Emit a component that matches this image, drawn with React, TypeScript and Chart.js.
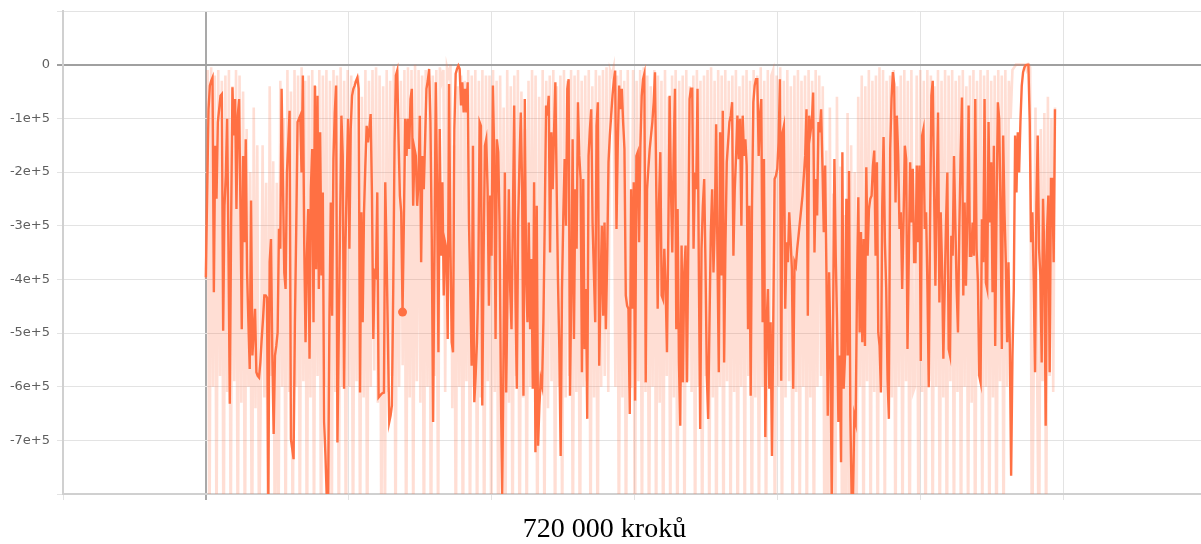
import React, { useEffect, useRef } from 'react';
import { Chart, registerables } from 'chart.js';

Chart.register(...registerables);

const AXIS_TITLE = '720 000 kroků';
const TOTAL_STEPS = 720000;
const X_GRID_STEP = 121152;
const X_MIN = -121152;
const X_MAX = 843816;
const xGridMultiples = [-1, 0, 1, 2, 3, 4, 5, 6];
const Y_MIN = -8e5;
const Y_MAX = 1e5;
const yGridValues = [-8e5, -7e5, -6e5, -5e5, -4e5, -3e5, -2e5, -1e5, 0, 1e5];
const yTickValues = [0, -1e5, -2e5, -3e5, -4e5, -5e5, -6e5, -7e5];
const yTickLabels = ['0', '-1e+5', '-2e+5', '-3e+5', '-4e+5', '-5e+5', '-6e+5', '-7e+5'];

// Smoothed series, read left to right
const smoothedSeg1 = [
  -3.96e5, -2.32e5, -0.83e5, -0.39e5, -0.30e5, -0.24e5, -4.24e5, -1.51e5, -2.50e5, -1.07e5,
  -0.83e5, -0.58e5, -0.55e5, -4.96e5, -2.63e5, -2.07e5, -1.01e5, -3.43e5, -6.32e5, -2.94e5,
  -0.42e5, -1.32e5, -0.64e5, -2.69e5, -0.95e5, -0.64e5, -2.63e5, -4.93e5, -1.70e5, -3.31e5,
  -1.39e5, -3.87e5, -4.80e5, -5.67e5, -2.53e5, -5.42e5, -4.99e5, -4.55e5, -5.73e5, -5.80e5,
  -5.83e5, -5.55e5, -5.11e5, -4.74e5, -4.30e5, -4.30e5, -4.34e5, -8.1e5, -3.68e5, -3.25e5,
  -5.42e5, -6.88e5, -5.42e5, -5.24e5, -4.99e5, -3.06e5, -3.43e5, -0.45e5, -2.19e5, -3.87e5,
  -4.18e5, -2.01e5, -1.45e5, -0.86e5, -6.98e5, -7.16e5, -7.35e5, -4.80e5, -3.06e5, -1.07e5,
  -1.01e5, -0.95e5, -2.01e5, -0.20e5, -3.31e5, -5.17e5, -3.56e5, -2.69e5, -5.48e5, -2.32e5,
  -1.57e5, -4.80e5, -0.39e5, -3.81e5, -0.58e5, -4.18e5, -1.26e5, -3.93e5, -2.38e5, -6.66e5,
  -7.29e5, -8.1e5, -8.1e5, -4.68e5, -2.57e5, -4.68e5, -1.76e5, -0.89e5, -0.39e5, -7.04e5,
  -4.99e5, -2.94e5, -0.95e5, -1.70e5,
];
const smoothedSeg2 = [
  -6.04e5, -3.43e5, -2.19e5, -1.01e5, -3.43e5, -1.20e5, -0.58e5, -0.45e5, -0.39e5, -0.30e5,
  -0.24e5, -0.45e5, -6.11e5, -2.75e5, -4.80e5, -2.75e5, -1.88e5, -1.14e5, -1.45e5, -1.20e5,
  -0.92e5, -2.44e5, -5.11e5, -3.87e5, -3.93e5, -2.38e5, -6.20e5, -6.17e5, -6.14e5, -6.12e5,
  -6.11e5, -2.19e5, -3.56e5, -5.11e5, -6.66e5, -6.54e5, -6.35e5, -4.18e5, -1.45e5, -0.20e5,
  -0.11e5, -1.39e5, -2.44e5, -2.75e5, -4.61e5, -2.94e5, -1.01e5, -1.70e5, -1.01e5, -1.57e5,
  -0.64e5, -0.45e5, -2.63e5, -1.57e5, -1.70e5, -2.63e5, -2.19e5, -0.95e5, -3.68e5, -1.70e5,
  -2.32e5, -1.39e5, -0.45e5, -0.30e5, -0.08e5, -1.07e5, -3.25e5, -6.66e5, -3.56e5, -0.33e5,
  -2.32e5, -5.36e5, -1.20e5, -3.56e5, -2.19e5, -4.30e5, -3.31e5, -3.43e5, -5.11e5, -0.36e5,
  -3.31e5, -5.17e5, -5.36e5, -1.20e5, -0.17e5, -0.08e5, -0.02e5, -0.08e5, -0.76e5, -0.33e5,
  -0.89e5, -0.45e5, -0.89e5, -0.33e5, -2.94e5, -4.18e5, -5.61e5, -1.51e5, -6.29e5, -5.80e5,
  -5.17e5, -4.06e5, -1.07e5, -1.14e5, -6.35e5, -3.56e5, -1.51e5,
];
const smoothedSeg3 = [
  -1.39e5, -2.32e5, -4.49e5, -2.44e5, -3.56e5, -0.39e5, -1.70e5, -5.11e5, -1.39e5, -1.63e5,
  -2.94e5, -6.04e5, -8.1e5, -5.42e5, -2.01e5, -6.11e5, -4.18e5, -2.32e5, -4.18e5, -4.93e5,
  -2.94e5, -0.76e5, -4.37e5, -6.04e5, -2.94e5, -1.82e5, -0.89e5, -2.32e5, -6.17e5, -0.64e5,
  -3.93e5, -4.80e5, -2.94e5, -4.93e5, -3.62e5, -6.04e5, -2.19e5, -7.22e5, -2.63e5, -7.10e5,
  -6.35e5, -5.86e5, -5.98e5, -4.80e5, -2.94e5, -0.76e5, -0.95e5, -0.58e5, -3.50e5, -1.26e5,
  -2.32e5, -1.26e5, -0.33e5, -2.32e5, -4.06e5, -5.30e5, -7.29e5, -4.18e5, -2.81e5, -1.76e5,
  -3.00e5, -0.45e5, -0.27e5, -6.17e5, -4.18e5, -1.39e5, -5.11e5, -2.32e5, -3.43e5, -0.70e5,
  -1.70e5, -2.13e5, -5.73e5, -2.13e5, -5.30e5, -4.18e5, -6.60e5, -1.70e5, -1.20e5, -0.83e5,
  -2.94e5, -3.87e5, -4.80e5, -1.14e5, -0.70e5, -5.61e5, -4.18e5, -3.00e5, -4.68e5, -2.94e5,
  -4.93e5, -3.62e5, -1.82e5, -1.32e5, -0.95e5, -0.58e5, -0.30e5, -0.11e5, -3.06e5, -1.45e5,
  -0.39e5, -0.83e5, -0.45e5, -1.07e5, -1.57e5, -4.30e5, -4.49e5,
];
const smoothedSeg4 = [
  -4.55e5, -6.51e5, -2.32e5, -4.55e5, -2.19e5, -6.26e5, -1.70e5, -1.63e5, -3.31e5, -1.51e5,
  -0.58e5, -0.27e5, -0.17e5, -5.92e5, -2.32e5, -1.94e5, -1.57e5, -1.32e5, -1.07e5, -0.70e5,
  -0.14e5, -2.44e5, -4.55e5, -2.57e5, -1.63e5, -4.30e5, -4.37e5, -3.43e5, -4.18e5, -5.36e5,
  -3.19e5, -0.58e5, -2.32e5, -3.50e5, -1.70e5, -0.45e5, -4.93e5, -2.69e5, -5.55e5, -6.73e5,
  -3.37e5, -5.92e5, -3.87e5, -3.37e5, -5.92e5, -3.50e5, -0.64e5, -0.45e5, -0.45e5, -3.43e5,
  -2.01e5, -2.32e5, -0.45e5, -3.87e5, -6.79e5, -3.43e5, -2.63e5, -2.13e5, -3.75e5, -5.80e5,
  -6.60e5, -4.80e5, -3.12e5, -2.32e5, -3.87e5, -2.94e5, -1.11e5, -3.56e5, -5.73e5, -1.26e5,
  -3.93e5, -0.86e5, -5.55e5, -3.37e5, -1.82e5, -1.45e5, -1.07e5, -0.95e5, -0.70e5, -3.56e5,
  -2.32e5, -1.70e5, -0.95e5, -1.76e5, -1.01e5, -3.00e5, -0.95e5, -1.70e5, -1.39e5, -1.88e5,
  -4.93e5, -2.63e5, -6.17e5, -2.63e5, -0.70e5, -0.39e5, -0.27e5, -0.27e5, -1.70e5, -0.95e5,
  -0.64e5, -4.80e5, -1.76e5, -6.94e5, -4.80e5, -4.18e5, -6.04e5,
];
const smoothedSeg5 = [
  -4.80e5, -7.29e5, -4.80e5, -2.13e5, -2.07e5, -1.94e5, -1.45e5, -0.27e5, -5.89e5, -1.26e5,
  -1.14e5, -4.55e5, -3.31e5, -3.68e5, -2.75e5, -3.25e5, -3.81e5, -6.04e5, -3.68e5, -3.75e5,
  -3.43e5, -3.19e5, -2.94e5, -2.69e5, -2.44e5, -2.07e5, -1.70e5, -0.83e5, -4.68e5, -0.95e5,
  -1.26e5, -1.07e5, -0.52e5, -3.50e5, -2.13e5, -2.81e5, -1.07e5, -1.26e5, -0.83e5, -1.88e5,
  -3.12e5, -1.88e5, -3.87e5, -6.54e5, -3.87e5, -5.24e5, -8.1e5, -4.80e5, -1.76e5, -3.56e5,
  -4.80e5, -6.66e5, -5.42e5, -7.41e5, -1.63e5, -6.04e5, -5.42e5, -2.50e5, -5.42e5, -1.98e5,
  -6.54e5, -8.1e5, -8.1e5, -6.54e5, -6.66e5, -4.18e5, -2.47e5, -4.99e5, -3.12e5, -5.17e5,
  -3.25e5, -5.24e5, -1.91e5, -3.56e5, -2.69e5, -2.50e5, -2.44e5, -1.88e5, -1.60e5, -3.56e5,
  -1.82e5, -4.99e5, -5.24e5, -6.11e5, -2.63e5, -1.35e5, -3.31e5, -4.18e5, -5.86e5, -6.60e5,
  -1.57e5, -0.64e5, -0.14e5, -0.36e5, -2.57e5, -0.95e5, -1.70e5, -3.06e5, -2.75e5, -4.18e5,
  -2.94e5, -1.51e5, -1.76e5, -5.30e5, -3.56e5, -1.82e5, -2.94e5, -1.94e5, -3.68e5,
];
const smoothedSeg6 = [
  -3.68e5, -1.88e5, -3.31e5, -1.88e5, -5.52e5, -1.32e5, -1.20e5, -3.06e5, -2.75e5, -4.12e5,
  -6.01e5, -2.94e5, -0.58e5, -0.30e5, -2.32e5, -4.12e5, -2.38e5, -0.89e5, -4.43e5, -2.75e5,
  -3.75e5, -5.48e5, -4.18e5, -2.94e5, -2.01e5, -5.30e5, -5.42e5, -3.19e5, -3.56e5, -1.70e5,
  -2.94e5, -4.18e5, -4.99e5, -3.06e5, -1.70e5, -0.61e5, -4.30e5, -2.57e5, -4.12e5, -2.88e5,
  -0.76e5, -3.56e5, -3.56e5, -2.94e5, -3.56e5, -0.64e5, -3.43e5, -4.06e5, -5.80e5, -5.92e5,
  -2.88e5, -3.68e5, -0.64e5, -4.06e5, -4.18e5, -1.07e5, -2.94e5, -1.82e5, -4.24e5, -1.51e5,
  -5.24e5, -2.75e5, -0.70e5, -1.01e5, -2.69e5, -5.30e5, -1.32e5, -2.75e5, -3.68e5, -5.17e5,
  -3.68e5, -5.24e5, -7.66e5, -5.42e5, -4.18e5, -1.32e5, -2.38e5, -1.26e5, -2.01e5, -1.07e5,
  -0.39e5, -0.14e5, -0.05e5, -0.01e5, 0, 0, -1.07e5, -3.31e5, -2.75e5, -4.06e5,
  -5.73e5, -2.63e5, -1.32e5, -3.43e5, -3.93e5, -5.55e5, -2.50e5, -3.56e5, -6.73e5, -3.12e5,
  -2.44e5, -5.73e5, -2.13e5, -2.13e5, -3.68e5, -0.83e5,
];

// Raw (unsmoothed) series, read left to right
const rawSeg1 = [
  -4.0e5, -0.1e5, -9.5e5, -0.05e5, -6.0e5, -0.2e5, -9.0e5, -0.1e5, -5.8e5, -0.3e5,
  -10.0e5, -0.2e5, -6.1e5, -0.1e5, -9.2e5, -0.4e5, -5.9e5, -0.1e5, -9.8e5, -0.2e5,
  -6.3e5, -0.5e5, -9.5e5, -1.2e5, -6.0e5, -2.0e5, -10.2e5, -0.8e5, -6.4e5, -1.5e5,
  -9.1e5, -6.0e5, -1.5e5, -6.2e5, -2.2e5, -9.6e5, -0.4e5, -5.8e5, -1.8e5, -10.5e5,
  -2.2e5, -9.0e5, -0.3e5, -6.0e5, -1.0e5, -9.4e5, -0.1e5, -6.1e5, -0.5e5, -9.8e5,
  -0.1e5, -6.0e5, -0.2e5, -9.3e5, -0.05e5, -5.9e5, -0.3e5, -10.1e5, -0.2e5, -6.2e5,
  -0.1e5, -9.0e5, -0.4e5, -5.8e5, -0.1e5, -9.7e5, -0.2e5, -6.0e5, -0.1e5, -10.3e5,
  -0.3e5, -9.1e5, -0.1e5, -6.1e5, -0.2e5, -9.4e5, -0.05e5, -6.0e5, -0.3e5, -9.9e5,
];
const rawSeg2 = [
  -0.1e5, -6.0e5, -0.2e5, -9.6e5, -0.3e5, -5.9e5, -0.2e5, -9.3e5, -0.6e5, -6.2e5,
  -0.1e5, -10.0e5, -0.3e5, -6.0e5, -0.1e5, -5.7e5, -0.05e5, -6.3e5, -0.2e5, -9.2e5,
  -0.4e5, -9.1e5, -0.1e5, -6.1e5, -0.3e5, -5.8e5, -0.02e5, -9.4e5, -0.1e5, -6.0e5,
  -0.3e5, -5.6e5, -0.1e5, -9.8e5, -0.05e5, -6.2e5, -0.1e5, -9.0e5, 0, -5.9e5,
  -0.1e5, -6.3e5, -0.2e5, -9.7e5, -0.1e5, -6.0e5, -0.3e5, -10.2e5, -0.2e5, -5.8e5,
  -0.1e5, -9.0e5, -0.05e5, -0.3e5, -0.1e5, -6.1e5, -0.05e5, -0.2e5, 0, -6.4e5,
  -1.5e5, -9.5e5, -0.4e5, -6.0e5, -0.2e5, -10.1e5, -0.3e5, -5.9e5, -0.1e5, -9.3e5,
  -0.2e5, -6.0e5, -0.1e5, -9.6e5, -0.3e5, -6.2e5, -0.1e5, -10.0e5, -0.2e5, -5.9e5,
];
const rawSeg3 = [
  -0.2e5, -9.4e5, -0.1e5, -6.1e5, -0.3e5, -10.3e5, -0.2e5, -5.9e5, -0.8e5, -9.0e5,
  -0.1e5, -6.3e5, -0.4e5, -9.7e5, -0.2e5, -5.8e5, -0.1e5, -10.0e5, -0.5e5, -6.2e5,
  -1.2e5, -9.3e5, -0.3e5, -6.0e5, -0.1e5, -5.7e5, -0.2e5, -9.9e5, -0.6e5, -6.1e5,
  -0.1e5, -9.2e5, -0.3e5, -6.4e5, -0.2e5, -5.9e5, -0.1e5, -9.6e5, -0.4e5, -6.0e5,
  -0.2e5, -9.1e5, -0.1e5, -6.2e5, -0.3e5, -5.8e5, -0.1e5, -9.5e5, -0.2e5, -6.1e5,
  -0.1e5, -10.2e5, -0.3e5, -6.0e5, -0.2e5, -5.9e5, -0.1e5, -9.3e5, -0.4e5, -6.2e5,
  -0.1e5, -9.8e5, -0.2e5, -6.0e5, -0.1e5, -5.8e5, -0.05e5, -6.1e5, -0.1e5, -0.2e5,
  -0.05e5, -6.0e5, -0.2e5, -9.4e5, -0.1e5, -6.2e5, -0.3e5, -9.7e5, -0.1e5, -6.0e5,
];
const rawSeg4 = [
  -6.0e5, -0.1e5, -10.0e5, -0.3e5, -5.9e5, -0.1e5, -9.2e5, -0.05e5, -6.1e5, -0.2e5,
  -9.8e5, -0.4e5, -6.0e5, -0.1e5, -9.4e5, -0.2e5, -6.3e5, -0.3e5, -10.1e5, -0.1e5,
  -5.8e5, -0.6e5, -9.0e5, -0.2e5, -6.2e5, -0.1e5, -9.7e5, -0.3e5, -6.0e5, -0.2e5,
  -9.3e5, -0.1e5, -5.9e5, -0.4e5, -6.1e5, -0.2e5, -9.5e5, -0.1e5, -6.0e5, -0.3e5,
  -9.9e5, -0.2e5, -5.8e5, -0.1e5, -9.1e5, -0.05e5, -6.2e5, -0.3e5, -10.2e5, -0.1e5,
  -6.0e5, -0.2e5, -9.6e5, -0.1e5, -5.9e5, -0.3e5, -9.2e5, -0.2e5, -6.1e5, -0.1e5,
  -9.8e5, -0.4e5, -6.0e5, -0.2e5, -9.4e5, -0.1e5, -5.8e5, -0.3e5, -10.0e5, -0.1e5,
  -6.2e5, -0.2e5, -9.1e5, -0.05e5, -6.0e5, -0.3e5, -9.7e5, -0.1e5, -5.9e5, -0.2e5,
];
const rawSeg5 = [
  -0.1e5, -9.8e5, -0.2e5, -6.0e5, -0.05e5, -9.3e5, -0.3e5, -6.2e5, -0.1e5, -5.9e5,
  -0.4e5, -9.6e5, -0.2e5, -6.1e5, -0.1e5, -9.0e5, -0.3e5, -6.0e5, -0.2e5, -9.5e5,
  -0.1e5, -6.2e5, -0.3e5, -9.9e5, -0.1e5, -6.0e5, -0.2e5, -5.8e5, -0.4e5, -10.0e5,
  -1.6e5, -10.4e5, -0.8e5, -9.2e5, -2.4e5, -9.9e5, -0.6e5, -6.3e5, -1.9e5, -10.1e5,
  -2.8e5, -9.4e5, -0.9e5, -10.6e5, -1.5e5, -9.0e5, -2.0e5, -9.7e5, -0.6e5, -6.0e5,
  -0.2e5, -9.7e5, -0.4e5, -5.9e5, -0.1e5, -9.2e5, -0.3e5, -6.1e5, -0.2e5, -9.5e5,
  -0.05e5, -6.0e5, -0.1e5, -9.0e5, -0.3e5, -5.8e5, -0.2e5, -6.2e5, -0.1e5, -9.6e5,
  -0.4e5, -6.0e5, -0.2e5, -9.3e5, -0.1e5, -5.9e5, -0.3e5, -10.0e5, -0.1e5, -6.1e5,
];
const rawSeg6 = [
  -6.0e5, -0.2e5, -9.4e5, -0.1e5, -6.1e5, -0.3e5, -9.8e5, -0.1e5, -5.9e5, -0.2e5,
  -9.2e5, -0.4e5, -6.0e5, -0.1e5, -9.6e5, -0.3e5, -6.2e5, -0.1e5, -10.0e5, -0.2e5,
  -5.9e5, -0.1e5, -9.3e5, -0.3e5, -6.1e5, -0.2e5, -9.7e5, -0.1e5, -6.0e5, -0.4e5,
  -9.1e5, -0.2e5, -6.3e5, -0.1e5, -10.2e5, -0.3e5, -5.8e5, -0.1e5, -9.0e5, -0.2e5,
  -6.0e5, -0.1e5, -9.5e5, -0.3e5, -6.2e5, -0.2e5, -10.3e5, -0.1e5, -5.9e5, -0.2e5,
  -9.4e5, -0.1e5, -6.0e5, -0.3e5, -1.0e5, -0.1e5, -0.05e5, 0, 0, 0,
  0, 0, 0, -0.1e5, 0, -0.05e5, -9.5e5, -5.7e5, -0.8e5, -6.0e5,
  -9.8e5, -1.2e5, -5.9e5, -0.9e5, -9.2e5, -0.6e5, -5.8e5, -1.0e5, -6.1e5, -0.8e5,
];

const DOT_INDEX = smoothedSeg1.length + 44;

const smoothed = [
  ...smoothedSeg1, ...smoothedSeg2, ...smoothedSeg3,
  ...smoothedSeg4, ...smoothedSeg5, ...smoothedSeg6,
];
const raw = [...rawSeg1, ...rawSeg2, ...rawSeg3, ...rawSeg4, ...rawSeg5, ...rawSeg6];

const toPoints = (vals: number[]) =>
  vals.map((y, i) => ({ x: (i * TOTAL_STEPS) / (vals.length - 1), y }));

export default function App() {
  const ref = useRef<HTMLCanvasElement | null>(null);

  useEffect(() => {
    if (!ref.current) return;
    const chart = new Chart(ref.current, {
      type: 'line',
      data: {
        datasets: [
          {
            label: 'smoothed',
            data: toPoints(smoothed),
            borderColor: '#ff7043',
            backgroundColor: '#ff7043',
            borderWidth: 2.4,
            pointRadius: (c: any) => (c.dataIndex === DOT_INDEX ? 4.5 : 0),
            pointBackgroundColor: '#ff7043',
            pointBorderWidth: 0,
            pointHoverRadius: 0,
            tension: 0,
            fill: false,
            order: 0,
          },
          {
            label: 'raw',
            data: toPoints(raw),
            borderColor: 'rgba(255,112,67,0.23)',
            borderWidth: 2.6,
            pointRadius: 0,
            pointHoverRadius: 0,
            tension: 0,
            fill: false,
            order: 1,
          },
        ],
      },
      options: {
        animation: false,
        responsive: false,
        events: [],
        layout: { padding: { left: 8, top: 11, right: 0, bottom: 0 } },
        plugins: {
          legend: { display: false },
          tooltip: { enabled: false },
          title: {
            display: true,
            position: 'bottom',
            text: AXIS_TITLE,
            color: '#000',
            padding: 0,
            font: { family: "'Liberation Serif', serif", size: 28, weight: 'normal', lineHeight: 1 },
          },
        },
        scales: {
          x: {
            type: 'linear',
            min: X_MIN,
            max: X_MAX,
            afterBuildTicks: (s: any) => {
              s.ticks = xGridMultiples.map((k) => ({ value: k * X_GRID_STEP }));
            },
            afterFit: (s: any) => {
              s.height = 22;
              s.paddingLeft = 0;
              s.paddingRight = 0;
            },
            ticks: { display: false },
            grid: {
              color: (c: any) => (c.tick && c.tick.value === 0 ? '#a9a9a9' : '#e3e3e3'),
              lineWidth: (c: any) => (c.tick && c.tick.value === 0 ? 2 : 1),
              tickLength: 6,
              drawTicks: true,
            },
            border: { color: '#d0d0d0', width: 2 },
          },
          y: {
            type: 'linear',
            min: Y_MIN,
            max: Y_MAX,
            afterBuildTicks: (s: any) => {
              s.ticks = yGridValues.map((v) => ({ value: v }));
            },
            afterFit: (s: any) => {
              s.width = 55;
              s.paddingTop = 0;
              s.paddingBottom = 0;
            },
            ticks: {
              autoSkip: false,
              padding: 7,
              color: '#5f5f5f',
              font: { family: "'DejaVu Sans', sans-serif", size: 13 },
              callback: (v: any) => {
                const i = yTickValues.indexOf(Number(v));
                return i >= 0 ? yTickLabels[i] : '';
              },
            },
            grid: {
              color: (c: any) => (c.tick && c.tick.value === 0 ? '#a0a0a0' : '#e3e3e3'),
              lineWidth: (c: any) => (c.tick && c.tick.value === 0 ? 2 : 1),
              tickLength: 6,
              drawTicks: true,
            },
            border: { color: '#d0d0d0', width: 2 },
          },
        },
      },
    } as any);
    return () => chart.destroy();
  }, []);

  return (
    <div style={{ position: 'absolute', left: 0, top: 0, width: 1201, height: 544 }}>
      <canvas ref={ref} width={1201} height={544} style={{ display: 'block' }} />
    </div>
  );
}
